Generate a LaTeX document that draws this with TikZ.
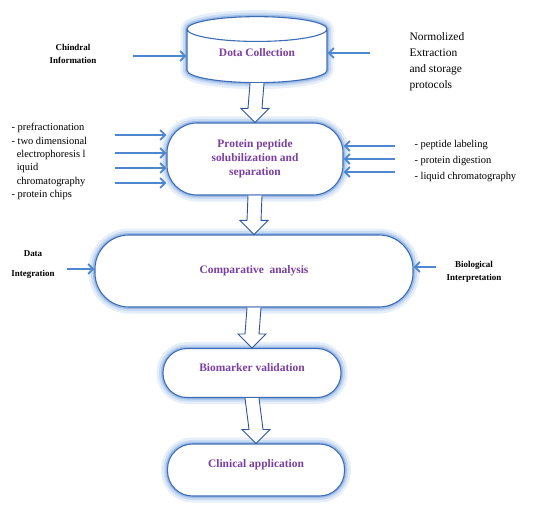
\documentclass[tikz,border=0pt]{standalone}
\usepackage{fontspec}
\setmainfont{Liberation Serif}
\usepackage{tikz}
\usetikzlibrary{arrows.meta,shapes,positioning,calc}

\definecolor{boxblue}{HTML}{3F6DB5}
\definecolor{glowblue}{HTML}{9DBDE8}
\definecolor{arrblue}{HTML}{4F86D0}
\definecolor{fatblue}{HTML}{2F5597}
\definecolor{txtpurple}{HTML}{7A3FA0}

\tikzset{
  glow/.style={preaction={draw=glowblue!25,line width=13bp},
               preaction={draw=glowblue!55,line width=8bp},
               preaction={draw=glowblue,line width=4bp}},
  stage/.style={draw=boxblue, line width=1.1bp, fill=white, glow,
                font=\bfseries\fontsize{11.5}{14}\selectfont, text=txtpurple, align=center},
  thinarr/.style={draw=arrblue, line width=1.8bp, -{Straight Barb[length=5bp,width=10bp]}},
  fatarr/.style={draw=fatblue, line width=0.9bp, fill=white},
  sidelbl/.style={font=\bfseries\fontsize{9}{13}\selectfont, align=center},
  listlbl/.style={font=\fontsize{10.5}{13.4}\selectfont, align=left},
}

\newcommand{\fatarrow}[2]{%
  \draw[fatarr] ($(#1.south)+(-7,0)$) -- ($(#2.north)+(-7,-14)$) -- ($(#2.north)+(-14,-14)$)
    -- (#2.north) -- ($(#2.north)+(14,-14)$) -- ($(#2.north)+(7,-14)$) -- ($(#1.south)+(7,0)$);}

\begin{document}
\begin{tikzpicture}[x=1bp,y=-1bp]
  \useasboundingbox (0,0) rectangle (535,505);

  % stages
  \node[stage, cylinder, shape border rotate=90, aspect=0.3,
        minimum width=140bp, minimum height=66bp] (dc) at (257,58) {\raisebox{10bp}{Dota Collection}};
  \node[stage, rectangle, rounded corners=30bp, minimum width=176bp, minimum height=72bp] (pp) at (255,159)
        {Protein peptide\\solubilization and\\separation};
  \node[stage, rectangle, rounded corners=34bp, minimum width=318bp, minimum height=72bp] (ca) at (254,271)
        {Comparative\ \ analysis};
  \node[stage, rectangle, rounded corners=24bp, minimum width=178bp, minimum height=49bp,
        text depth=10bp] (bv) at (252,373) {Biomarker validation};
  \node[stage, rectangle, rounded corners=25bp, minimum width=177bp, minimum height=52bp,
        text depth=12bp] (cl) at (256,470) {Clinical application};

  \fatarrow{dc}{pp}
  \fatarrow{pp}{ca}
  \fatarrow{ca}{bv}
  \fatarrow{bv}{cl}

  % inputs of data collection
  \node[sidelbl] (chin) at (73,54) {Chindral\\Information};
  \node[listlbl, font=\fontsize{11.5}{16}\selectfont, anchor=north west] (norm) at (406,29)
        {Normolized\\Extraction\\and storage\\protocols};
  \coordinate (c1) at (133,56);
  \coordinate (c2) at (370,53);
  \draw[thinarr] (c1) -- (c1 -| dc.west);
  \draw[thinarr] (c2) -- (c2 -| dc.east);

  % inputs of separation
  \node[listlbl, anchor=north west] (seplist) at (8,120)
        {- prefractionation\\- two dimensional\\\ \ electrophoresis l\\\ \ iquid\\\ \ chromatography\\- protein chips};
  \node[listlbl, font=\fontsize{10.5}{16}\selectfont, anchor=north west] (diglist) at (411,137)
        {- peptide labeling\\- protein digestion\\- liquid chromatography};
  \coordinate (l1) at (115,135);
  \coordinate (l2) at (115,153);
  \coordinate (l3) at (115,168);
  \coordinate (l4) at (115,183);
  \draw[thinarr] (l1) -- (l1 -| pp.west);
  \draw[thinarr] (l2) -- (l2 -| pp.west);
  \draw[thinarr] (l3) -- (l3 -| pp.west);
  \draw[thinarr] (l4) -- (l4 -| pp.west);
  \coordinate (r1) at (395,146);
  \coordinate (r2) at (395,159);
  \coordinate (r3) at (395,172);
  \draw[thinarr] (r1) -- (r1 -| pp.east);
  \draw[thinarr] (r2) -- (r2 -| pp.east);
  \draw[thinarr] (r3) -- (r3 -| pp.east);

  % inputs of analysis
  \node[sidelbl, font=\bfseries\fontsize{9}{20}\selectfont] (dint) at (33,265) {Data\\Integration};
  \node[sidelbl] (bio) at (474,272) {Biological\\Interpretation};
  \coordinate (d1) at (67,269);
  \coordinate (b1) at (436,267);
  \draw[thinarr] (d1) -- (d1 -| ca.west);
  \draw[thinarr] (b1) -- (b1 -| ca.east);
\end{tikzpicture}
\end{document}
